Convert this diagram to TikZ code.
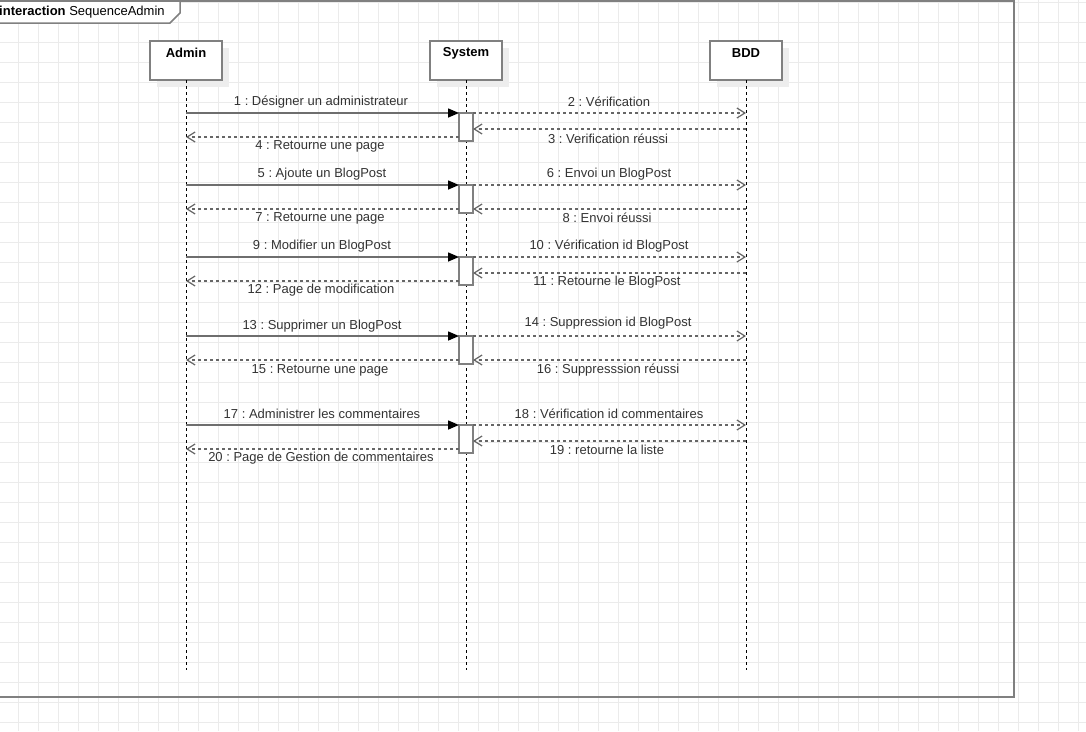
\documentclass[tikz,border=0pt]{standalone}
\usepackage{fontspec}
\setmainfont{Liberation Sans}
\frenchspacing
\usetikzlibrary{arrows.meta,calc}
\definecolor{gridc}{HTML}{EBEBEB}
\definecolor{framec}{HTML}{808080}
\definecolor{linec}{HTML}{6E6E6E}
\definecolor{dashc}{HTML}{666666}
\definecolor{txtc}{HTML}{333333}
\definecolor{shadowc}{HTML}{EDEDED}
\begin{document}
\begin{tikzpicture}[x=1pt,y=-1pt,
  gridline/.style={gridc,line width=1pt},
  frameline/.style={framec,line width=1.5pt},
  head/.style={draw=framec,line width=1.5pt,fill=white,minimum width=72pt,minimum height=39pt,inner sep=0pt,outer sep=0pt},
  lifeline/.style={black,line width=1pt,dash pattern=on 3pt off 3pt},
  actbox/.style={draw=framec,line width=1.5pt,fill=white,minimum width=14pt,minimum height=28pt,inner sep=0pt,outer sep=0pt},
  syncmsg/.style={linec,line width=1.5pt,-{Triangle[length=11pt,width=9pt,color=black]}},
  replymsg/.style={dashc,line width=1.5pt,dash pattern=on 3pt off 3pt,-{Straight Barb[length=8pt,width=10pt,line width=1.2pt]}},
  lbl/.style={font=\fontsize{13pt}{15pt}\selectfont,text=txtc,inner sep=0pt},
  headlbl/.style={font=\fontsize{13pt}{15pt}\selectfont\bfseries,text=black,inner sep=0pt}
]
\clip (0,0) rectangle (1086,731);
\fill[white] (0,0) rectangle (1086,731);
% grid
\foreach \x in {18,38,...,1078} \draw[gridline] (\x,0) -- (\x,731);
\foreach \y in {2,22,...,722} \draw[gridline] (0,\y) -- (1086,\y);
% frame
\draw[frameline] (-10,1) rectangle (1014,697);
\draw[frameline,fill=white] (-10,1) -- (180,1) -- (180,13) -- (170,23) -- (-10,23) -- cycle;
\node[lbl,anchor=west,text=black] (title) at (-1,12) {\textbf{interaction} SequenceAdmin};
% shadows of heads
\fill[shadowc] (157,48) rectangle (229,87);
\fill[shadowc] (437,48) rectangle (509,87);
\fill[shadowc] (717,48) rectangle (789,87);
% heads
\node[head] (admin) at (186,60.5) {};
\node[head] (sys) at (466,60.5) {};
\node[head] (bdd) at (746,60.5) {};
\node[headlbl] (adminl) at (186,53) {Admin};
\node[headlbl] (sysl) at (466,53) {System};
\node[headlbl] (bddl) at (746,53) {BDD};
% lifeline ends
\coordinate (adminE) at (186,670);
\coordinate (sysE) at (466,670);
\coordinate (bddE) at (746,670);
\draw[lifeline] (admin.south) -- (adminE);
\draw[lifeline] (sys.south) -- (sysE);
\draw[lifeline] (bdd.south) -- (bddE);
% activation boxes
\node[actbox] (act1) at (466,127) {};
\node[actbox] (act2) at (466,199) {};
\node[actbox] (act3) at (466,271) {};
\node[actbox] (act4) at (466,350) {};
\node[actbox] (act5) at (466,439) {};
% ---- block 1
\coordinate (a1) at (186,113);
\coordinate (b2) at (746,113);
\coordinate (b3) at (746,129);
\coordinate (a4) at (186,137);
\draw[syncmsg] (a1) -- (act1.north west);
\draw[replymsg] (act1.north east) -- (b2);
\draw[replymsg] (b3) -- (act1.east |- b3);
\draw[replymsg] (act1.west |- a4) -- (a4);
\node[lbl] (l1) at (321,102) {1 : Désigner un administrateur};
\node[lbl] (l2) at (609,102) {2 : Vérification};
\node[lbl] (l3) at (608,139) {3 : Verification réussi};
\node[lbl] (l4) at (320,146) {4 : Retourne une page};
% ---- block 2
\coordinate (a5) at (186,185);
\coordinate (b6) at (746,185);
\coordinate (b8) at (746,209);
\coordinate (a7) at (186,209);
\draw[syncmsg] (a5) -- (act2.north west);
\draw[replymsg] (act2.north east) -- (b6);
\draw[replymsg] (b8) -- (act2.east |- b8);
\draw[replymsg] (act2.west |- a7) -- (a7);
\node[lbl] (l5) at (322,174) {5 : Ajoute un BlogPost};
\node[lbl] (l6) at (609,174) {6 : Envoi un BlogPost};
\node[lbl] (l7) at (320,218) {7 : Retourne une page};
\node[lbl] (l8) at (607,218) {8 : Envoi réussi};
% ---- block 3
\coordinate (a9) at (186,257);
\coordinate (b10) at (746,257);
\coordinate (b11) at (746,273);
\coordinate (a12) at (186,281);
\draw[syncmsg] (a9) -- (act3.north west);
\draw[replymsg] (act3.north east) -- (b10);
\draw[replymsg] (b11) -- (act3.east |- b11);
\draw[replymsg] (act3.west |- a12) -- (a12);
\node[lbl] (l9) at (322,246) {9 : Modifier un BlogPost};
\node[lbl] (l10) at (609,246) {10 : Vérification id BlogPost};
\node[lbl] (l11) at (607,282) {11 : Retourne le BlogPost};
\node[lbl] (l12) at (321,290) {12 : Page de modification};
% ---- block 4
\coordinate (a13) at (186,336);
\coordinate (b14) at (746,336);
\coordinate (b16) at (746,360);
\coordinate (a15) at (186,360);
\draw[syncmsg] (a13) -- (act4.north west);
\draw[replymsg] (act4.north east) -- (b14);
\draw[replymsg] (b16) -- (act4.east |- b16);
\draw[replymsg] (act4.west |- a15) -- (a15);
\node[lbl] (l13) at (322,326) {13 : Supprimer un BlogPost};
\node[lbl] (l14) at (608,323) {14 : Suppression id BlogPost};
\node[lbl] (l15) at (320,370) {15 : Retourne une page};
\node[lbl] (l16) at (608,370) {16 : Suppresssion réussi};
% ---- block 5
\coordinate (a17) at (186,425);
\coordinate (b18) at (746,425);
\coordinate (b19) at (746,441);
\coordinate (a20) at (186,449);
\draw[syncmsg] (a17) -- (act5.north west);
\draw[replymsg] (act5.north east) -- (b18);
\draw[replymsg] (b19) -- (act5.east |- b19);
\draw[replymsg] (act5.west |- a20) -- (a20);
\node[lbl] (l17) at (322,414) {17 : Administrer les commentaires};
\node[lbl] (l18) at (609,414) {18 : Vérification id commentaires};
\node[lbl] (l19) at (607,450) {19 : retourne la liste};
\node[lbl] (l20) at (321,458) {20 : Page de Gestion de commentaires};
\end{tikzpicture}
\end{document}
